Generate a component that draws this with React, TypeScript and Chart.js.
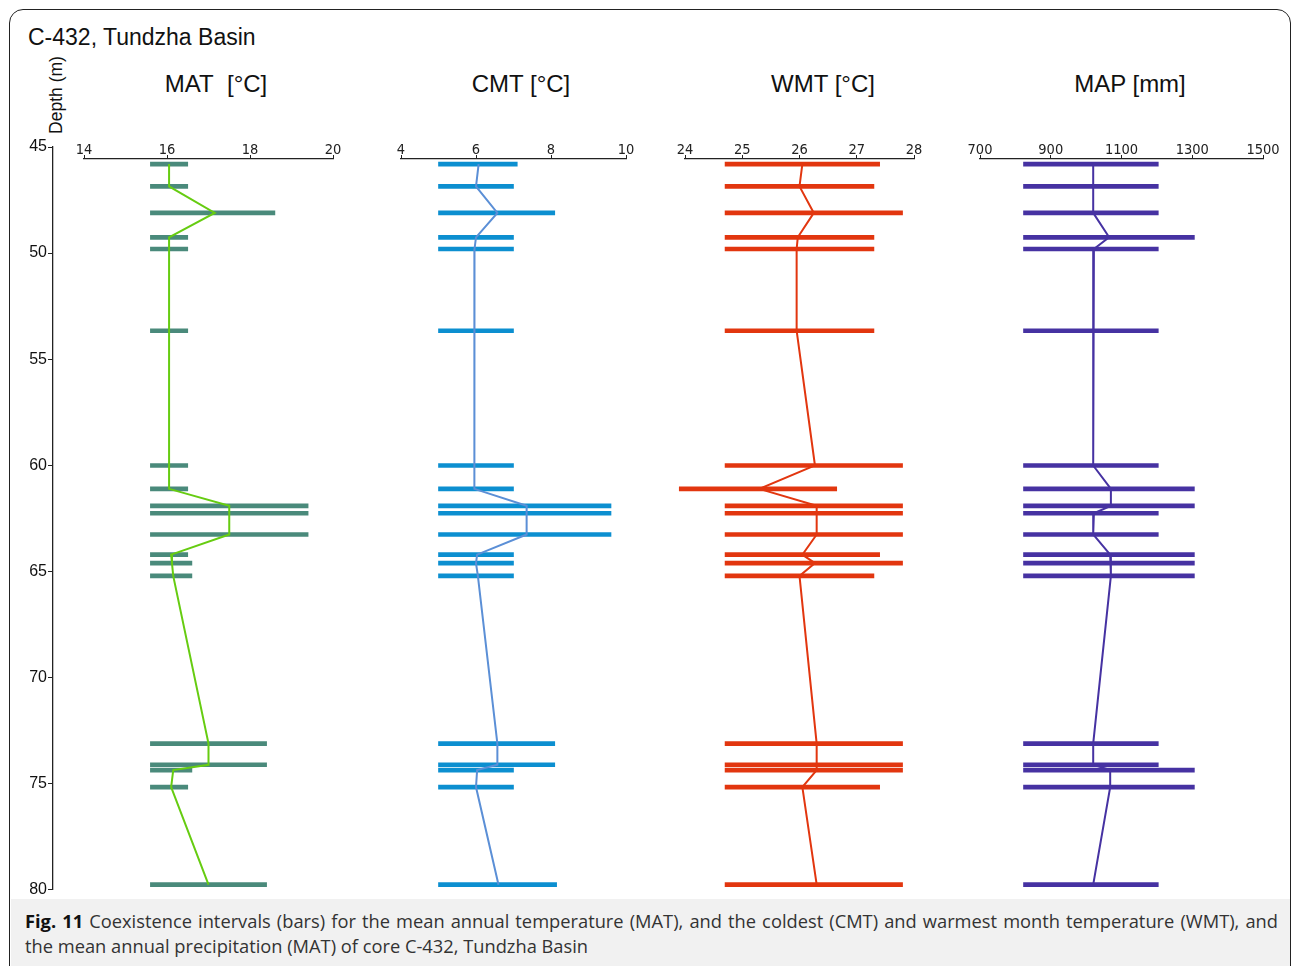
import React, { useEffect, useRef } from "react";
import { Chart, registerables } from "chart.js";
Chart.register(...registerables);

// ---------- data ----------
const DEPTHS = [45.8, 46.85, 48.1, 49.25, 49.8, 53.65, 60.0, 61.1, 61.9, 62.25, 63.25, 64.2, 64.6, 65.2, 73.1, 74.1, 74.35, 75.15, 79.75];

const MAT_MIN = [15.6, 15.6, 15.6, 15.6, 15.6, 15.6, 15.6, 15.6, 15.6, 15.6, 15.6, 15.6, 15.6, 15.6, 15.6, 15.6, 15.6, 15.6, 15.6];
const MAT_MAX = [16.5, 16.5, 18.6, 16.5, 16.5, 16.5, 16.5, 16.5, 19.4, 19.4, 19.4, 16.5, 16.6, 16.6, 18.4, 18.4, 16.6, 16.5, 18.4];
const MAT_MID = [16.05, 16.05, 17.15, 16.05, 16.05, 16.05, 16.05, 16.05, 17.5, 17.5, 17.5, 16.1, 16.12, 16.15, 17.0, 17.0, 16.15, 16.1, 17.0];

const CMT_MIN = [5.0, 5.0, 5.0, 5.0, 5.0, 5.0, 5.0, 5.0, 5.0, 5.0, 5.0, 5.0, 5.0, 5.0, 5.0, 5.0, 5.0, 5.0, 5.0];
const CMT_MAX = [7.1, 7.0, 8.1, 7.0, 7.0, 7.0, 7.0, 7.0, 9.6, 9.6, 9.6, 7.0, 7.0, 7.0, 8.1, 8.1, 7.0, 7.0, 8.15];
const CMT_MID = [6.07, 6.0, 6.57, 6.0, 5.96, 5.95, 5.95, 5.97, 7.35, 7.35, 7.35, 6.03, 6.0, 6.05, 6.57, 6.57, 6.03, 6.0, 6.6];

const WMT_MIN = [24.7, 24.7, 24.7, 24.7, 24.7, 24.7, 24.7, 23.9, 24.7, 24.7, 24.7, 24.7, 24.7, 24.7, 24.7, 24.7, 24.7, 24.7, 24.7];
const WMT_MAX = [27.4, 27.3, 27.8, 27.3, 27.3, 27.3, 27.8, 26.65, 27.8, 27.8, 27.8, 27.4, 27.8, 27.3, 27.8, 27.8, 27.8, 27.4, 27.8];
const WMT_MID = [26.05, 26.0, 26.25, 25.97, 25.95, 25.95, 26.27, 25.3, 26.3, 26.3, 26.3, 26.05, 26.27, 26.0, 26.3, 26.3, 26.3, 26.05, 26.3];

const MAP_MIN = [823, 823, 823, 823, 823, 823, 823, 823, 823, 823, 823, 823, 823, 823, 823, 823, 823, 823, 823];
const MAP_MAX = [1204, 1204, 1204, 1306, 1204, 1204, 1204, 1306, 1306, 1204, 1204, 1306, 1306, 1306, 1204, 1204, 1306, 1306, 1204];
const MAP_MID = [1020, 1020, 1020, 1065, 1022, 1020, 1020, 1070, 1070, 1022, 1020, 1068, 1070, 1070, 1020, 1020, 1068, 1068, 1020];

const DEPTH_TICKS = [45, 50, 55, 60, 65, 70, 75, 80];
const MAT_TICKS = [14, 16, 18, 20];
const CMT_TICKS = [4, 6, 8, 10];
const WMT_TICKS = [24, 25, 26, 27, 28];
const MAP_TICKS = [700, 900, 1100, 1300, 1500];

const DEPTH_MIN = 45;
const DEPTH_MAX = 80;
const AXIS_DEPTH = 45.56; // depth level at which the top axes are drawn

// ---------- layout ----------
const Y_TOP = 147; // pixel of depth 45
const X_AXIS_Y = 159; // pixel of top axes
const Y_BOTTOM = 890; // pixel of depth 80
const AXIS_X = 53;

const TICK_FONT = { family: "'DejaVu Sans Condensed', 'DejaVu Sans', sans-serif", size: 14.5 };
const INK = "#222";

type PanelDef = {
  title: string;
  titleX: number;
  left: number;
  right: number;
  ticks: number[];
  lo: number[];
  hi: number[];
  mid: number[];
  barColor: string;
  lineColor: string;
};

const PANELS: PanelDef[] = [
  { title: "MAT\u00a0\u00a0[°C]", titleX: 216, left: 84, right: 333, ticks: MAT_TICKS, lo: MAT_MIN, hi: MAT_MAX, mid: MAT_MID, barColor: "#4a8a7b", lineColor: "#66cc11" },
  { title: "CMT [°C]", titleX: 521, left: 401, right: 626, ticks: CMT_TICKS, lo: CMT_MIN, hi: CMT_MAX, mid: CMT_MID, barColor: "#0c8fd0", lineColor: "#5b8fd6" },
  { title: "WMT [°C]", titleX: 823, left: 685, right: 914, ticks: WMT_TICKS, lo: WMT_MIN, hi: WMT_MAX, mid: WMT_MID, barColor: "#e2360f", lineColor: "#e2360f" },
  { title: "MAP [mm]", titleX: 1130, left: 980, right: 1263, ticks: MAP_TICKS, lo: MAP_MIN, hi: MAP_MAX, mid: MAP_MID, barColor: "#4632a2", lineColor: "#4632a2" },
];

function Panel({ p }: { p: PanelDef }) {
  const ref = useRef<HTMLCanvasElement>(null);
  const padL = 24, padR = 24, padTop = 4, axisH = 24, padB = 10;
  const top = X_AXIS_Y - padTop - axisH;
  const width = p.right - p.left + padL + padR;
  const height = Y_BOTTOM + padB - top;
  useEffect(() => {
    const chart = new Chart(ref.current!, {
      type: "bar",
      data: {
        datasets: [
          {
            type: "line",
            data: p.mid.map((v, i) => ({ x: v, y: DEPTHS[i] })),
            borderColor: p.lineColor,
            borderWidth: 2,
            pointRadius: 0,
            fill: false,
            tension: 0,
            order: 0,
            clip: false,
          } as any,
          {
            type: "bar",
            data: p.lo.map((v, i) => ({ x: [v, p.hi[i]], y: DEPTHS[i] })),
            backgroundColor: p.barColor,
            barThickness: 4,
            borderWidth: 0,
            order: 1,
            clip: false,
          } as any,
        ],
      },
      options: {
        indexAxis: "y",
        animation: false,
        responsive: false,
        maintainAspectRatio: false,
        layout: { padding: { left: padL, right: padR, top: padTop, bottom: padB } },
        plugins: { legend: { display: false }, tooltip: { enabled: false } },
        scales: {
          x: {
            type: "linear",
            position: "top",
            min: p.ticks[0],
            max: p.ticks[p.ticks.length - 1],
            afterBuildTicks: (s: any) => {
              s.ticks = p.ticks.map((v) => ({ value: v }));
            },
            afterFit: (s: any) => {
              s.height = axisH;
            },
            ticks: { font: TICK_FONT, color: INK, padding: -4, maxRotation: 0, callback: (v: any) => String(v) },
            grid: { display: true, drawOnChartArea: false, drawTicks: true, tickLength: 4, color: INK, lineWidth: 1 },
            border: { display: true, color: INK, width: 1.2 },
          },
          y: { type: "linear", reverse: true, offset: false, min: AXIS_DEPTH, max: DEPTH_MAX, display: false, grid: { offset: false } },
        },
      } as any,
    });
    return () => chart.destroy();
  }, []);
  return (
    <canvas
      ref={ref}
      width={width}
      height={height}
      style={{ position: "absolute", left: p.left - padL, top, width, height }}
    />
  );
}

function DepthAxis() {
  const ref = useRef<HTMLCanvasElement>(null);
  const width = 70, padB = 10;
  const height = Y_BOTTOM + padB;
  useEffect(() => {
    const chart = new Chart(ref.current!, {
      type: "line",
      data: { datasets: [] },
      options: {
        animation: false,
        responsive: false,
        maintainAspectRatio: false,
        layout: { padding: { left: 0, right: 0, top: Y_TOP, bottom: padB } },
        plugins: { legend: { display: false }, tooltip: { enabled: false } },
        scales: {
          x: { type: "linear", display: false, min: 0, max: 1 },
          y: {
            type: "linear",
            position: "left",
            reverse: true,
            min: DEPTH_MIN,
            max: DEPTH_MAX,
            afterBuildTicks: (s: any) => {
              s.ticks = DEPTH_TICKS.map((v) => ({ value: v }));
            },
            afterFit: (s: any) => {
              s.width = AXIS_X;
            },
            ticks: { font: { family: "'Liberation Sans', Arial, sans-serif", size: 16 }, color: "#111", padding: 1 },
            grid: { display: true, drawOnChartArea: false, drawTicks: true, tickLength: 5, color: INK },
            border: { display: true, color: INK, width: 1.3 },
          },
        },
      } as any,
    });
    return () => chart.destroy();
  }, []);
  return <canvas ref={ref} width={width} height={height} style={{ position: "absolute", left: 0, top: 0, width, height }} />;
}

export default function App() {
  const sans = "'Liberation Sans', Arial, sans-serif";
  return (
    <div style={{ position: "absolute", left: 0, top: 0, width: 1293, height: 966, overflow: "hidden", background: "#fff", fontFamily: sans, color: "#111" }}>
      <div style={{ position: "absolute", left: 9, top: 9, width: 1282, height: 1000, border: "1.5px solid #222", borderRadius: 14, boxSizing: "border-box" }} />
      <div style={{ position: "absolute", left: 10.5, top: 899, width: 1279, height: 80, background: "#f1f1f1" }} />
      <div style={{ position: "absolute", left: 28, top: 37, transform: "translateY(-50%)", fontSize: 23, whiteSpace: "nowrap" }}>C-432, Tundzha Basin</div>
      <div style={{ position: "absolute", left: 56, top: 95, transform: "translate(-50%,-50%) rotate(-90deg)", fontSize: 17.5, whiteSpace: "nowrap" }}>Depth (m)</div>
      {PANELS.map((p) => (
        <div key={p.title} style={{ position: "absolute", left: p.titleX, top: 84, transform: "translate(-50%,-50%)", fontSize: 24, whiteSpace: "nowrap" }}>
          {p.title}
        </div>
      ))}
      <DepthAxis />
      {PANELS.map((p) => (
        <Panel key={p.title} p={p} />
      ))}
      <div style={{ position: "absolute", left: 25, top: 908, width: 1253, fontFamily: "'Open Sans', sans-serif", fontSize: 18.3, lineHeight: "25px", color: "#333" }}>
        <div style={{ textAlign: "justify", textAlignLast: "justify", whiteSpace: "nowrap" } as any}>
          <b style={{ color: "#111" }}>Fig. 11</b> Coexistence intervals (bars) for the mean annual temperature (MAT), and the coldest (CMT) and warmest month temperature (WMT), and
        </div>
        <div style={{ whiteSpace: "nowrap" }}>the mean annual precipitation (MAT) of core C-432, Tundzha Basin</div>
      </div>
    </div>
  );
}
